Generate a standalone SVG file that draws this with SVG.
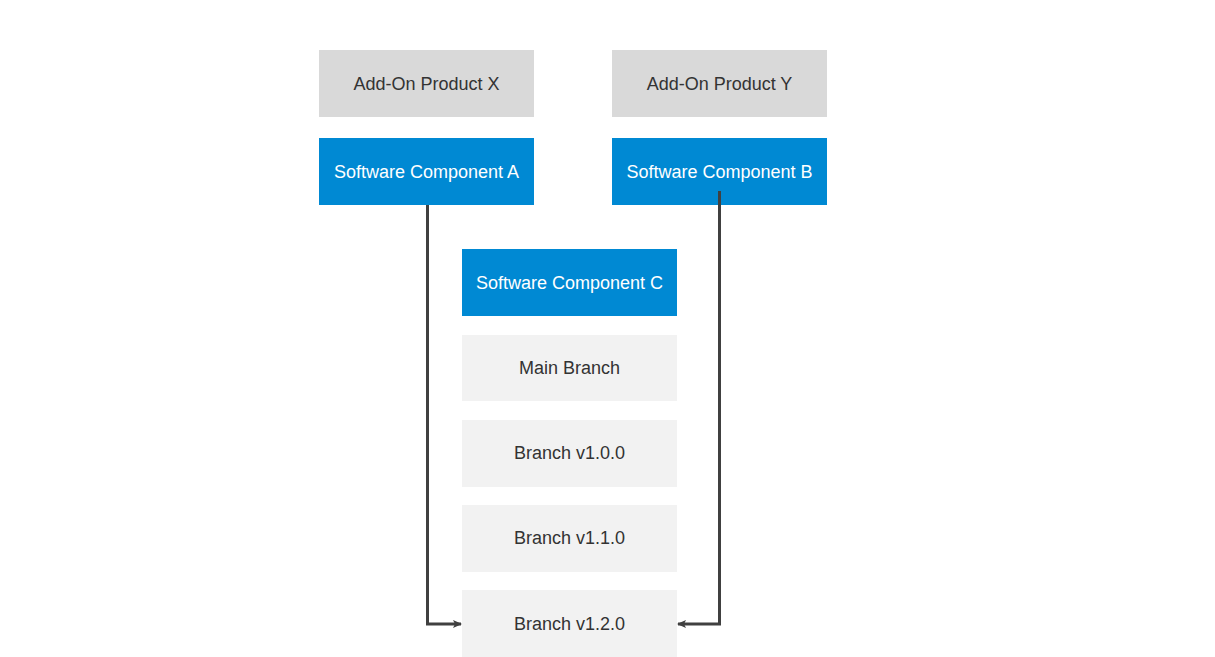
<svg xmlns="http://www.w3.org/2000/svg" width="1215" height="657" viewBox="0 0 1215 657">
<style>
.t{font-family:"Liberation Sans",Arial,sans-serif;font-size:18px;text-anchor:middle;dominant-baseline:central}
.dark{fill:#333333}
.light{fill:#ffffff}
.prod{fill:#d9d9d9}
.comp{fill:#0089d3}
.br{fill:#f2f2f2}
.conn{fill:none;stroke:#404040;stroke-width:3}
</style>
<defs>
<marker id="ah" markerWidth="10" markerHeight="10" refX="8" refY="5" orient="auto" markerUnits="userSpaceOnUse">
<path d="M0,1 L9,5 L0,9 L2,5 Z" fill="#404040"/>
</marker>
</defs>
<rect width="1215" height="657" fill="#ffffff"/>
<g id="product-x"><rect class="prod" x="319" y="50" width="215" height="67"/><text class="t dark" x="426.5" y="83.5">Add-On Product X</text></g>
<g id="product-y"><rect class="prod" x="612" y="50" width="215" height="67"/><text class="t dark" x="719.5" y="83.5">Add-On Product Y</text></g>
<g id="component-a"><rect class="comp" x="319" y="138" width="215" height="67"/><text class="t light" x="426.5" y="171.5">Software Component A</text></g>
<g id="component-b"><rect class="comp" x="612" y="138" width="215" height="67"/><text class="t light" x="719.5" y="171.5">Software Component B</text></g>
<g id="component-c"><rect class="comp" x="462" y="249" width="215" height="67"/><text class="t light" x="569.5" y="282.5">Software Component C</text></g>
<g id="main-branch"><rect class="br" x="462" y="335" width="215" height="66"/><text class="t dark" x="569.5" y="368">Main Branch</text></g>
<g id="branch-100"><rect class="br" x="462" y="420" width="215" height="67"/><text class="t dark" x="569.5" y="453">Branch v1.0.0</text></g>
<g id="branch-110"><rect class="br" x="462" y="505" width="215" height="67"/><text class="t dark" x="569.5" y="538">Branch v1.1.0</text></g>
<g id="branch-120"><rect class="br" x="462" y="590" width="215" height="67"/><text class="t dark" x="569.5" y="624">Branch v1.2.0</text></g>
<g id="connectors">
<path class="conn" d="M427.5,205 V624 H461" marker-end="url(#ah)"/>
<path class="conn" d="M719.5,191 V624 H678" marker-end="url(#ah)"/>
</g>
</svg>
